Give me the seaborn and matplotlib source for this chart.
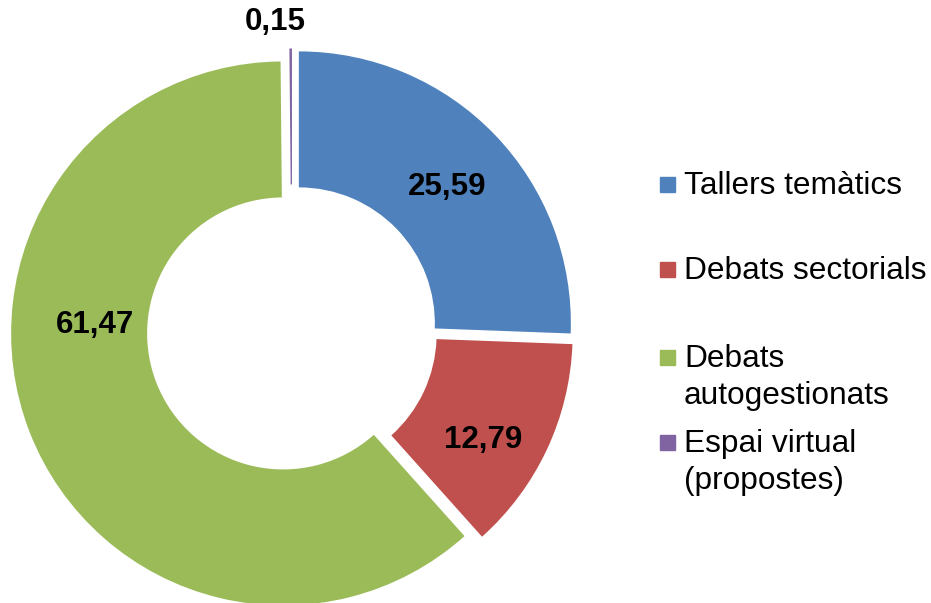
import matplotlib
matplotlib.use("Agg")
import matplotlib.pyplot as plt
import seaborn as sns
from matplotlib.patches import Rectangle

# Dades
categories = ["Tallers temàtics", "Debats sectorials", "Debats\nautogestionats", "Espai virtual\n(propostes)"]
values = [25.59, 12.79, 61.47, 0.15]
colors = ["#4F81BD", "#C0504D", "#9BBB59", "#8064A2"]

sns.set_theme(style="white")
plt.rcParams["font.family"] = ["Liberation Sans", "DejaVu Sans"]

W, H = 931, 603
fig = plt.figure(figsize=(W / 100, H / 100), dpi=100)

# eixos quadrats centrats al donut (centre ~ (292, 330) px, radi ~272 px)
cx, cy, R = 292, 330, 272
s = 300
ax = fig.add_axes([(cx - s) / W, (H - cy - s) / H, 2 * s / W, 2 * s / H])

wedges, texts, autotexts = ax.pie(
    values,
    colors=colors,
    startangle=90,
    counterclock=False,
    explode=[0.035] * len(values),
    wedgeprops=dict(width=0.5, linewidth=0),
    autopct=lambda p: f"{p:.2f}".replace(".", ","),
    pctdistance=0.77,
    textprops=dict(fontsize=22.5, fontweight="bold", color="black"),
)
# posició de les etiquetes com a l'original (unitats del radi)
label_pos = [(0.57, 0.526), (0.702, -0.404), (-0.724, 0.018), (-0.0625, 1.132)]
for t, p in zip(autotexts, label_pos):
    t.set_position(p)

ax.set_aspect("auto")
ax.set_xlim(-s / R, s / R)
ax.set_ylim(-s / R, s / R)
ax.axis("off")

# Llegenda manual
leg_y = [194, 279, 367, 452]  # línia base de la primera línia (px)
for lab, col, y in zip(categories, colors, leg_y):
    fig.patches.append(Rectangle((660 / W, (H - y + 2) / H), 15 / W, 15 / H,
                                 transform=fig.transFigure, color=col))
    lines = lab.split("\n")
    for i, ln in enumerate(lines):
        fig.text(684 / W, (H - y - i * 37) / H, ln, fontsize=22.8,
                 va="baseline", ha="left", color="black")

plt.savefig("out.png", dpi=100)
plt.close()
